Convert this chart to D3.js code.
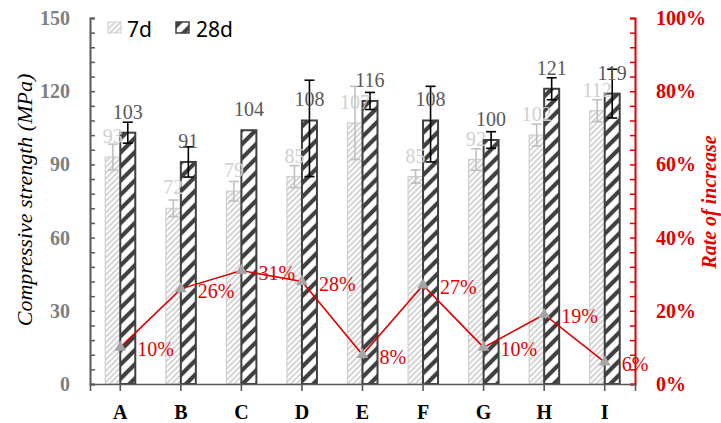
<!DOCTYPE html>
<html>
<head>
<meta charset="utf-8">
<script src="https://cdn.jsdelivr.net/npm/d3@7"></script>
<style>
  body { margin: 0; background: #fff; }
  svg { display: block; }
</style>
</head>
<body>
<svg id="chart" width="721" height="423"></svg>
<script>
// chart values
const categories = ['A', 'B', 'C', 'D', 'E', 'F', 'G', 'H', 'I'];
const strength7d = [93, 72, 79, 85, 107, 85, 92, 102, 112];
const strength28d = [103, 91, 104, 108, 116, 108, 100, 121, 119];
const err7d = [5.3, 3.4, 4, 4.5, 15, 2.7, 4.4, 4.5, 4.5];
const err28dUp = [4.3, 6.2, 0, 16.5, 3.5, 14, 3.4, 4.5, 10];
const err28dDown = [4.3, 6.2, 0, 23, 3.5, 17, 3.4, 4.5, 10];
const increaseRate = [10, 26, 31, 28, 8, 27, 10, 19, 6];
const leftTicks = [0, 30, 60, 90, 120, 150];
const rightTicks = [0, 20, 40, 60, 80, 100];

const serif = "'Liberation Serif', 'Times New Roman', serif";
const red = '#e00000';

const svg = d3.select('#chart');
const [plotL, plotR, plotT, plotB] = [90, 635, 18, 384];

const x = d3.scaleBand().domain(categories).range([plotL, plotR]);
const y = d3.scaleLinear().domain([0, 150]).range([plotB, plotT]);
const yR = d3.scaleLinear().domain([0, 100]).range([plotB, plotT]);
const barW = 15;

// hatch patterns
const defs = svg.append('defs');
const p7 = defs.append('pattern').attr('id', 'hatch7').attr('patternUnits', 'userSpaceOnUse')
  .attr('width', 4).attr('height', 4).attr('patternTransform', 'rotate(45)');
p7.append('rect').attr('width', 4).attr('height', 4).attr('fill', '#fff');
p7.append('line').attr('x1', 1).attr('x2', 1).attr('y1', 0).attr('y2', 4)
  .attr('stroke', '#c4c4c4').attr('stroke-width', 1.4);
const p28 = defs.append('pattern').attr('id', 'hatch28').attr('patternUnits', 'userSpaceOnUse')
  .attr('width', 10).attr('height', 10).attr('patternTransform', 'rotate(45)');
p28.append('rect').attr('width', 10).attr('height', 10).attr('fill', '#fff');
p28.append('line').attr('x1', 3).attr('x2', 3).attr('y1', 0).attr('y2', 10)
  .attr('stroke', '#404040').attr('stroke-width', 4.2);

//bars
const cx = d => x(d) + x.bandwidth() / 2;
svg.append('g').selectAll('rect').data(categories).enter().append('rect')
  .attr('x', d => cx(d) - barW).attr('width', barW)
  .attr('y', (d, i) => y(strength7d[i])).attr('height', (d, i) => plotB - y(strength7d[i]))
  .attr('fill', 'url(#hatch7)').attr('stroke', '#cfcfcf').attr('stroke-width', 1.2);
svg.append('g').selectAll('rect').data(categories).enter().append('rect')
  .attr('x', d => cx(d)).attr('width', barW)
  .attr('y', (d, i) => y(strength28d[i])).attr('height', (d, i) => plotB - y(strength28d[i]))
  .attr('fill', 'url(#hatch28)').attr('stroke', '#404040').attr('stroke-width', 2);

// error bars
function errorBars(xpos, vals, up, down, color) {
  const g = svg.append('g').attr('stroke', color).attr('stroke-width', 1.6).attr('fill', 'none');
  categories.forEach((c, i) => {
    if (up[i] === 0 && down[i] === 0) return;
    const xx = xpos(c);
    const y1 = y(vals[i] + up[i]), y2 = y(vals[i] - down[i]);
    g.append('line').attr('x1', xx).attr('x2', xx).attr('y1', y1).attr('y2', y2);
    g.append('line').attr('x1', xx - 5).attr('x2', xx + 5).attr('y1', y1).attr('y2', y1);
    g.append('line').attr('x1', xx - 5).attr('x2', xx + 5).attr('y1', y2).attr('y2', y2);
  });
}
errorBars(d => cx(d) - barW / 2, strength7d, err7d, err7d, '#c0c0c0');
errorBars(d => cx(d) + barW / 2, strength28d, err28dUp, err28dDown, '#000');

// value labels
svg.append('g').selectAll('text').data(categories).enter().append('text')
  .attr('x', d => cx(d) - barW / 2).attr('y', (d, i) => y(strength7d[i]) - 14)
  .attr('text-anchor', 'middle').attr('font-family', serif).attr('font-size', 20)
  .attr('fill', '#d0d0d0').text((d, i) => strength7d[i]);
svg.append('g').selectAll('text').data(categories).enter().append('text')
  .attr('x', d => cx(d) + barW / 2).attr('y', (d, i) => y(strength28d[i]) - 14)
  .attr('text-anchor', 'middle').attr('font-family', serif).attr('font-size', 20)
  .attr('fill', '#595959').text((d, i) => strength28d[i]);

// axes
const minorL = d3.range(0, 151, 6);
svg.append('g').attr('transform', `translate(${plotL},0)`)
  .call(d3.axisLeft(y).tickValues(minorL).tickSize(-5).tickFormat(''))
  .call(g => g.selectAll('line,path').attr('stroke', '#595959').attr('stroke-width', 1.5))
  .call(g => g.select('.domain').attr('stroke-width', 2));
svg.append('g').attr('transform', `translate(${plotL},0)`)
  .call(d3.axisLeft(y).tickValues(leftTicks).tickSize(0).tickPadding(20))
  .call(g => g.select('.domain').remove())
  .call(g => g.selectAll('text').attr('font-family', serif).attr('font-weight', 'bold')
    .attr('font-size', 20).attr('fill', '#7f7f7f'));

const minorR = d3.range(0, 101, 4);
svg.append('g').attr('transform', `translate(${plotR},0)`)
  .call(d3.axisRight(yR).tickValues(minorR).tickSize(-5).tickFormat(''))
  .call(g => g.selectAll('line,path').attr('stroke', red).attr('stroke-width', 1.5))
  .call(g => g.select('.domain').attr('stroke-width', 2));
svg.append('g').attr('transform', `translate(${plotR},0)`)
  .call(d3.axisRight(yR).tickValues(rightTicks).tickSize(0).tickPadding(21).tickFormat(d => d + '%'))
  .call(g => g.select('.domain').remove())
  .call(g => g.selectAll('text').attr('font-family', serif).attr('font-weight', 'bold')
    .attr('font-size', 20).attr('fill', red));

svg.append('g').attr('transform', `translate(0,${plotB})`)
  .call(d3.axisBottom(x).tickSize(7).tickPadding(14).tickSizeOuter(7))
  .call(g => g.selectAll('line,path').attr('stroke', '#595959').attr('stroke-width', 1.6))
  .call(g => g.selectAll('text').attr('font-family', serif).attr('font-weight', 'bold')
    .attr('font-size', 20).attr('fill', '#000'));

// rate line
const line = d3.line().x((d, i) => cx(categories[i])).y(d => yR(d));
svg.append('path').datum(increaseRate).attr('d', line)
  .attr('fill', 'none').attr('stroke', red).attr('stroke-width', 1.6);
svg.append('g').selectAll('path').data(increaseRate).enter().append('path')
  .attr('d', d3.symbol().type(d3.symbolTriangle).size(60))
  .attr('transform', (d, i) => `translate(${cx(categories[i])},${yR(d)})`)
  .attr('fill', '#a6a6a6');
svg.append('g').selectAll('text').data(increaseRate).enter().append('text')
  .attr('x', (d, i) => cx(categories[i]) + 17).attr('y', d => yR(d) + 9)
  .attr('font-family', serif).attr('font-size', 20).attr('fill', red)
  .text(d => d + '%');

// titles
svg.append('text').attr('transform', 'translate(32,200) rotate(-90)')
  .attr('text-anchor', 'middle').attr('font-family', serif).attr('font-style', 'italic')
  .attr('font-size', 22).attr('fill', '#000').text('Compressive strength (MPa)');
svg.append('text').attr('transform', 'translate(716,202) rotate(-90)')
  .attr('text-anchor', 'middle').attr('font-family', serif).attr('font-style', 'italic')
  .attr('font-weight', 'bold').attr('font-size', 20).attr('fill', red).text('Rate of increase');

// legend
const legend = svg.append('g').attr('font-family', "'Noto Sans', sans-serif").attr('font-size', 21);
legend.append('rect').attr('x', 108).attr('y', 22).attr('width', 13).attr('height', 11)
  .attr('fill', 'url(#hatch7)').attr('stroke', '#cfcfcf');
legend.append('text').attr('x', 127).attr('y', 37).attr('fill', '#000').text('7d');
legend.append('rect').attr('x', 176).attr('y', 22).attr('width', 13).attr('height', 11)
  .attr('fill', 'url(#hatch28)').attr('stroke', '#404040').attr('stroke-width', 1.5);
legend.append('text').attr('x', 196).attr('y', 37).attr('fill', '#000').text('28d');
</script>
</body>
</html>
